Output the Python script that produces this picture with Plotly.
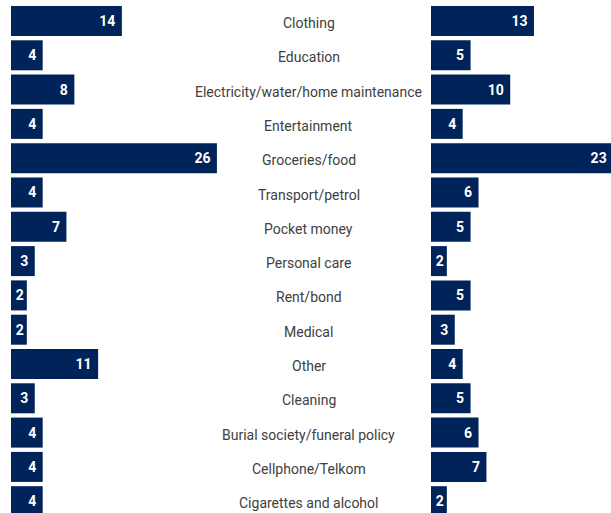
import plotly.graph_objects as go

categories = [
    "Clothing", "Education", "Electricity/water/home maintenance", "Entertainment",
    "Groceries/food", "Transport/petrol", "Pocket money", "Personal care",
    "Rent/bond", "Medical", "Other", "Cleaning",
    "Burial society/funeral policy", "Cellphone/Telkom", "Cigarettes and alcohol",
]
left_values = [14, 4, 8, 4, 26, 4, 7, 3, 2, 2, 11, 3, 4, 4, 4]
right_values = [13, 5, 10, 4, 23, 6, 5, 2, 5, 3, 4, 5, 6, 7, 2]

W, H = 611, 513
BAR = "#00245a"
PX_PER_UNIT = 7.92

bar_font = dict(family="Roboto", size=14, color="white", weight="bold")


def bar_label(v):
    # a trailing no-break space pulls the number in from the bar end,
    # except on the narrowest bars where there is no room for it
    return f"{v}\u00a0" if v > 2 else f"{v}"


fig = go.Figure()
for vals, xa in ((left_values, "x"), (right_values, "x2")):
    fig.add_trace(go.Bar(
        x=vals, y=categories, orientation="h", xaxis=xa, yaxis="y",
        marker=dict(color=BAR, line=dict(width=0)),
        text=[bar_label(v) for v in vals],
        textposition="inside", insidetextanchor="end",
        insidetextfont=bar_font, constraintext="none",
        hoverinfo="skip", showlegend=False,
    ))

for c in categories:
    fig.add_annotation(
        x=308.7 / W, xref="paper", y=c, yref="y", yshift=-2,
        text=c, showarrow=False, xanchor="center", yanchor="middle",
        font=dict(family="Roboto", size=14, color="#404040"),
    )

left_dom = (11 / W, 240 / W)
right_dom = (431 / W, 1.0)
fig.update_layout(
    width=W, height=H,
    margin=dict(l=0, r=0, t=0, b=0),
    paper_bgcolor="white", plot_bgcolor="white",
    bargap=0.125,
    xaxis=dict(domain=list(left_dom), range=[0, (240 - 11) / PX_PER_UNIT], visible=False, fixedrange=True),
    xaxis2=dict(domain=list(right_dom), range=[0, (W - 431) / PX_PER_UNIT], visible=False, fixedrange=True),
    yaxis=dict(type="category", categoryorder="array", categoryarray=categories,
               range=[14.344, -0.612], visible=False, fixedrange=True),
)

fig.write_html("out.html", config={"displayModeBar": False})
